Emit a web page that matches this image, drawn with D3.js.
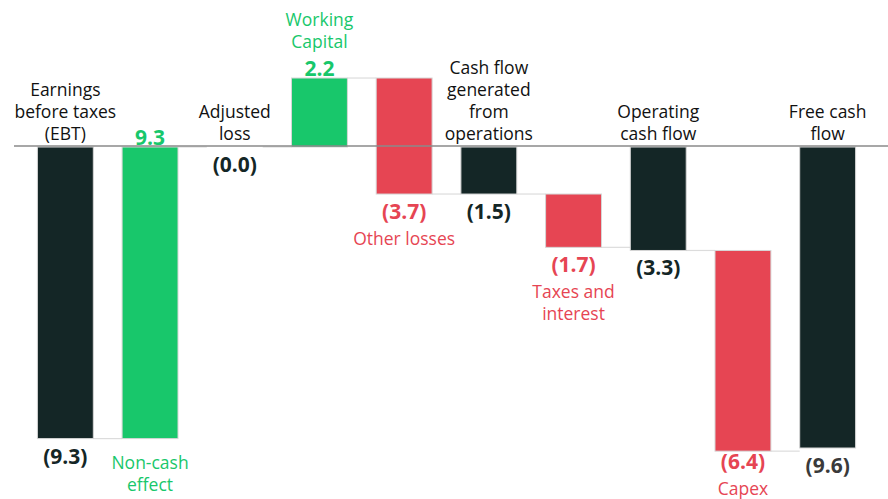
<!DOCTYPE html>
<html>
<head>
<meta charset="utf-8">
<script src="https://cdn.jsdelivr.net/npm/d3@7"></script>
<style>
  body { margin: 0; background: #fff; }
  svg { display: block; font-family: "Open Sans", sans-serif; }
</style>
</head>
<body>
<svg id="chart" width="888" height="499"></svg>
<script>
"use strict";

// Waterfall data
const names = [
  ["Earnings", "before taxes", "(EBT)"],
  ["Non-cash", "effect"],
  ["Adjusted", "loss"],
  ["Working", "Capital"],
  ["Other losses"],
  ["Cash flow", "generated", "from", "operations"],
  ["Taxes and", "interest"],
  ["Operating", "cash flow"],
  ["Capex"],
  ["Free cash", "flow"]
];
const values = [-9.3, 9.3, 0.0, 2.2, -3.7, -1.5, -1.7, -3.3, -6.4, -9.6];
const kinds = ["total", "increase", "total", "increase", "decrease", "total", "decrease", "total", "decrease", "total"];
const namePos = ["above", "below", "above", "above", "below", "above", "below", "above", "below", "above"];

const colors = { total: "#142626", increase: "#18c76b", decrease: "#e64553" };

const svg = d3.select("#chart");
const ids = d3.range(values.length);

const x = d3.scaleBand()
            .domain(ids)
            .range([23, 870])
            .paddingInner(0.34)
            .paddingOuter(0.17);
const y = d3.scaleLinear()
            .domain([0, -9.6])
            .range([147, 448]);

// Work out where each bar starts and ends
let running = 0;
const bars = ids.map(i => {
  let start, end;
  if (kinds[i] === "total") {
    start = 0;
    end = values[i];
  } else {
    start = running;
    end = running + values[i];
  }
  running = end;
  return { i, start, end, lo: Math.min(start, end), hi: Math.max(start, end) };
});

// Connectors between bars
svg.append("g")
   .selectAll("line")
   .data(bars.slice(0, -1))
   .enter()
   .append("line")
   .attr("x1", d => x(d.i) + x.bandwidth())
   .attr("x2", d => x(d.i + 1))
   .attr("y1", d => y(d.end))
   .attr("y2", d => y(d.end))
   .attr("stroke", "#dcdcdc")
   .attr("stroke-width", 1.2);

// Bars
svg.append("g")
   .selectAll("rect")
   .data(bars)
   .enter()
   .append("rect")
   .attr("x", d => x(d.i))
   .attr("width", x.bandwidth())
   .attr("y", d => y(d.hi))
   .attr("height", d => Math.max(0, y(d.lo) - y(d.hi)))
   .attr("fill", d => colors[kinds[d.i]])
   .attr("stroke", "#d6d6d6")
   .attr("stroke-width", 1);

// Zero line
svg.append("line")
   .attr("x1", 14)
   .attr("x2", 888)
   .attr("y1", y(0) - 1)
   .attr("y2", y(0) - 1)
   .attr("stroke", "#8a8a8a")
   .attr("stroke-width", 1.5);

const fmt = v => v <= 0 ? `(${d3.format(".1f")(Math.abs(v))})` : d3.format(".1f")(v);
const valueColor = i => kinds[i] === "total" ? (i === values.length - 1 ? "#3a3a3a" : "#142626") : colors[kinds[i]];
const nameColor = i => kinds[i] === "total" ? "#111" : colors[kinds[i]];

const labels = svg.append("g").attr("text-anchor", "middle");
const lineH = 22;
const maxY = 488;  // keep the last line inside the picture

bars.forEach(d => {
  const cx = x(d.i) + x.bandwidth() / 2;
  let valueY;
  if (kinds[d.i] === "increase") {
    valueY = y(d.hi) - 10;
  } else if (kinds[d.i] === "decrease") {
    valueY = Math.min(y(d.lo) + 17, 461);
  } else {
    valueY = y(d.lo) + 17;
  }
  labels.append("text")
        .attr("x", cx)
        .attr("y", valueY)
        .attr("dominant-baseline", "central")
        .attr("font-size", 21)
        .attr("font-weight", 700)
        .attr("fill", valueColor(d.i))
        .text(fmt(values[d.i]));

  const lines = names[d.i];
  let firstY;
  if (kinds[d.i] === "total") {
    firstY = y(0) - 14 - (lines.length - 1) * lineH;
  } else if (namePos[d.i] === "above") {
    firstY = valueY - 27 - (lines.length - 1) * lineH;
  } else if (kinds[d.i] === "increase") {
    firstY = y(d.lo) + 23;
  } else {
    firstY = valueY + 27;
  }
  firstY = Math.min(firstY, maxY - (lines.length - 1) * lineH);
  lines.forEach((t, k) => {
    labels.append("text")
          .attr("x", cx)
          .attr("y", firstY + k * lineH)
          .attr("dominant-baseline", "central")
          .attr("font-size", 17.5)
          .attr("fill", nameColor(d.i))
          .text(t);
  });
});
</script>
</body>
</html>
